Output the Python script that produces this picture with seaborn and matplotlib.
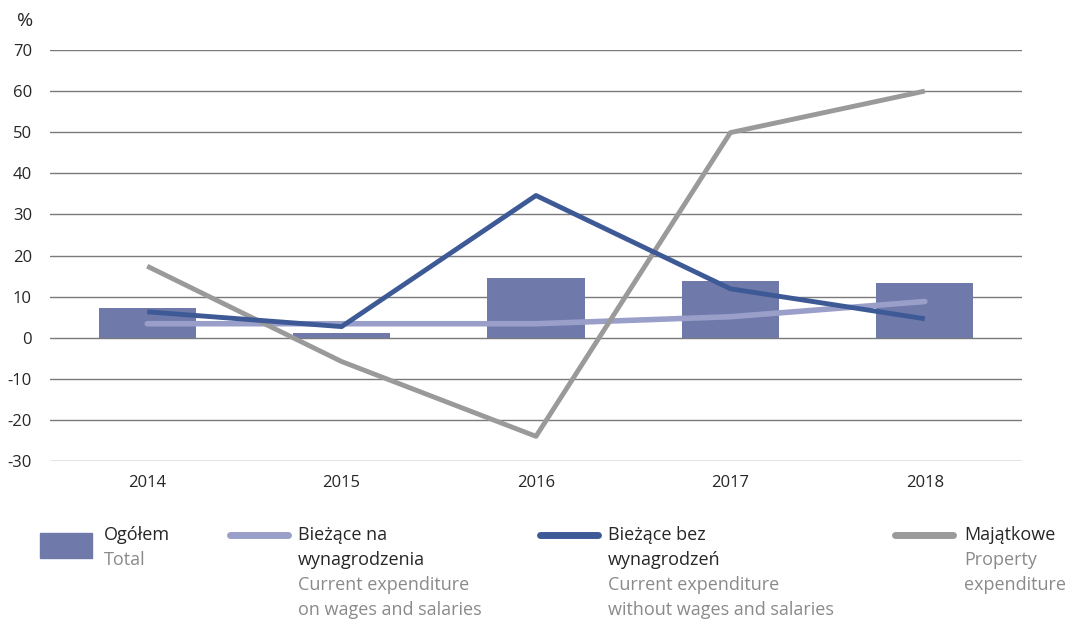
import numpy as np
import pandas as pd
import matplotlib
matplotlib.use("Agg")
import matplotlib.pyplot as plt
import seaborn as sns
from matplotlib.patches import Rectangle
from matplotlib.lines import Line2D

# data (% change, year to year)
years = ["2014", "2015", "2016", "2017", "2018"]
ogolem = [7.3, 1.1, 14.5, 13.8, 13.3]
biezace_na_wyn = [3.4, 3.4, 3.4, 5.1, 8.8]
biezace_bez_wyn = [6.3, 2.7, 34.6, 11.9, 4.6]
majatkowe = [17.4, -5.8, -24.0, 49.9, 60.0]
yticks = list(range(-30, 80, 10))

c_bar = "#6f7aab"
c_light = "#9a9fc9"
c_dark = "#3e5a96"
c_gray = "#9a9a9a"

sns.set_theme(style="white")
plt.rcParams["font.family"] = ["Open Sans", "DejaVu Sans"]

df = pd.DataFrame({"year": years, "ogolem": ogolem, "na": biezace_na_wyn,
                   "bez": biezace_bez_wyn, "maj": majatkowe})

fig = plt.figure(figsize=(10.74, 6.2), dpi=100)
ax = fig.add_axes([50 / 1074, 1 - 461 / 620, 972 / 1074, 411 / 620])

sns.barplot(data=df, x="year", y="ogolem", color=c_bar, width=0.5,
            saturation=1, linewidth=0, ax=ax, zorder=2)
x = np.arange(len(years))
ax.plot(x, df["na"], color=c_light, lw=4, solid_capstyle="round", zorder=3)
ax.plot(x, df["maj"], color=c_gray, lw=3.5, solid_capstyle="butt", zorder=3)
ax.plot(x, df["bez"], color=c_dark, lw=3.5, solid_capstyle="butt", zorder=4)

ax.set_ylim(-30, 70)
ax.set_xlim(-0.5, len(years) - 0.5)
ax.set_yticks(yticks)
ax.set_yticklabels([str(t) for t in yticks])
ax.yaxis.grid(True, color="#7a7a7a", lw=1)
ax.set_axisbelow(True)
for s in ax.spines.values():
    s.set_visible(False)
ax.set_xlabel("")
ax.set_ylabel("")
ax.tick_params(axis="y", length=0, labelsize=12, pad=13)
ax.tick_params(axis="x", length=0, labelsize=12, pad=10)
fig.text(17 / 1074, 1 - 21 / 620, "%", fontsize=14, va="center", ha="left")

# legend built by hand
fs = 13
def ty(p):
    return 1 - p / 620

fig.patches.append(Rectangle((40 / 1074, ty(558)), 52 / 1074, 25 / 620,
                             transform=fig.transFigure, color=c_bar))
fig.text(104 / 1074, ty(535), "Ogółem", fontsize=fs, va="center")
fig.text(104 / 1074, ty(560), "Total", fontsize=fs, va="center", color="#8a8a8a")

entries = [
    (230, c_light, 298, ["Bieżące na", "wynagrodzenia"],
     ["Current expenditure", "on wages and salaries"]),
    (540, c_dark, 608, ["Bieżące bez", "wynagrodzeń"],
     ["Current expenditure", "without wages and salaries"]),
    (895, c_gray, 964, ["Majątkowe"], ["Property", "expenditure"]),
]
for lx, col, tx, pl, en in entries:
    fig.lines.append(Line2D([lx / 1074, (lx + 58) / 1074], [ty(535), ty(535)],
                            transform=fig.transFigure, color=col, lw=5,
                            solid_capstyle="round"))
    row = 535
    for t in pl:
        fig.text(tx / 1074, ty(row), t, fontsize=fs, va="center")
        row += 25
    for t in en:
        fig.text(tx / 1074, ty(row), t, fontsize=fs, va="center", color="#8a8a8a")
        row += 25

fig.savefig("out.png", dpi=100)
